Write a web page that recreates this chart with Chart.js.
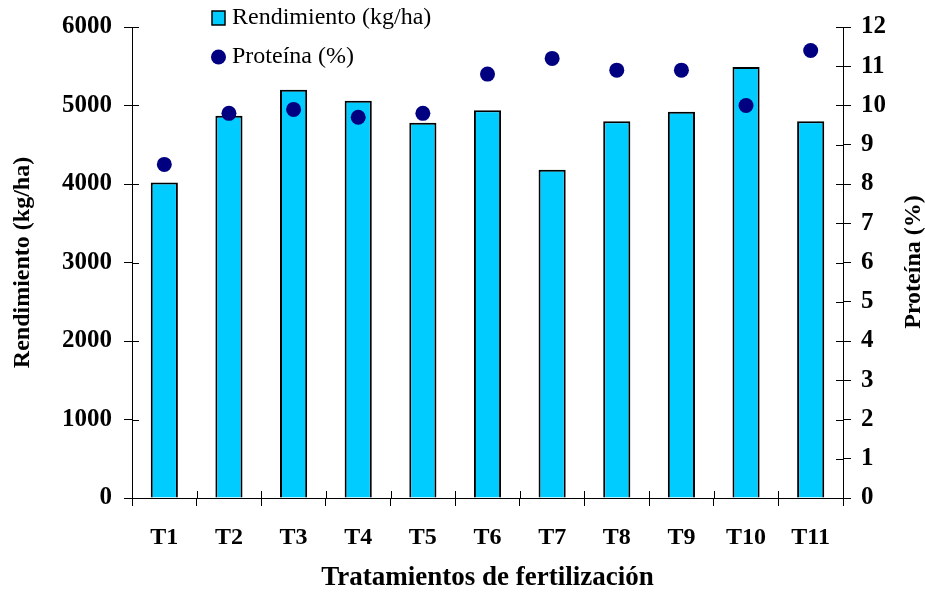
<!DOCTYPE html>
<html>
<head>
<meta charset="utf-8">
<script src="https://cdn.jsdelivr.net/npm/chart.js@4/dist/chart.umd.min.js"></script>
<style>
  html, body { margin: 0; padding: 0; background: #fff; }
  #wrap { width: 925px; height: 596px; }
</style>
</head>
<body>
<div id="wrap"><canvas id="grafico" width="925" height="596"></canvas></div>
<script>
var tratamientos = ['T1', 'T2', 'T3', 'T4', 'T5', 'T6', 'T7', 'T8', 'T9', 'T10', 'T11'];
var rendimiento = [4020, 4870, 5200, 5060, 4780, 4940, 4180, 4800, 4920, 5490, 4800];
var proteina = [8.5, 9.8, 9.9, 9.7, 9.8, 10.8, 11.2, 10.9, 10.9, 10.0, 11.4];
var ticksRend = [0, 1000, 2000, 3000, 4000, 5000, 6000];
var ticksProt = [0, 1, 2, 3, 4, 5, 6, 7, 8, 9, 10, 11, 12];

var serif = "'Liberation Serif', 'Times New Roman', serif";

// short tick marks that go inside the plot, like the original
var ticksDentro = {
    id: 'ticksDentro',
    afterDraw: function(chart) {
        var ctx = chart.ctx;
        var a = chart.chartArea;
        ctx.save();
        ctx.strokeStyle = '#000';
        ctx.lineWidth = 1;
        ctx.beginPath();
        chart.scales.y.ticks.forEach(function(t) {
            var py = Math.round(chart.scales.y.getPixelForValue(t.value)) + 0.5;
            ctx.moveTo(a.left, py); ctx.lineTo(a.left + 7, py);
        });
        chart.scales.y1.ticks.forEach(function(t) {
            var py = Math.round(chart.scales.y1.getPixelForValue(t.value)) + 0.5;
            ctx.moveTo(a.right, py); ctx.lineTo(a.right - 7, py);
        });
        var x = chart.scales.x;
        var w = (x.right - x.left) / tratamientos.length;
        for (var k = 0; k <= tratamientos.length; k++) {
            var px = Math.round(x.left + k * w) + 0.5;
            ctx.moveTo(px, a.bottom); ctx.lineTo(px, a.bottom - 7);
        }
        ctx.stroke();
        ctx.restore();
    }
};

// legend in two rows + right axis title reading bottom to top
var leyenda = {
    id: 'leyenda',
    afterDraw: function(chart) {
        var ctx = chart.ctx;
        var ds = chart.data.datasets;
        ctx.save();
        // bars
        ctx.fillStyle = ds[1].backgroundColor;
        ctx.strokeStyle = '#000';
        ctx.lineWidth = 1.5;
        ctx.fillRect(212, 11, 13, 14);
        ctx.strokeRect(212, 11, 13, 14);
        // points
        ctx.fillStyle = ds[0].backgroundColor;
        ctx.beginPath();
        ctx.arc(218.5, 57, 7.5, 0, Math.PI * 2);
        ctx.fill();
        ctx.fillStyle = '#000';
        ctx.font = '24px ' + serif;
        ctx.textBaseline = 'middle';
        ctx.textAlign = 'left';
        ctx.fillText(ds[1].label, 232, 18);
        ctx.fillText(ds[0].label, 232, 57);

        ctx.translate(914, 262);
        ctx.rotate(-Math.PI / 2);
        ctx.font = 'bold 24px ' + serif;
        ctx.textAlign = 'center';
        ctx.fillText('Proteína (%)', 0, 0);
        ctx.restore();
    }
};

var ctx = document.getElementById('grafico');
var grafico = new Chart(ctx, {
    data: {
        labels: tratamientos,
        datasets: [
            {
                type: 'line',
                label: 'Proteína (%)',
                data: proteina,
                yAxisID: 'y1',
                showLine: false,
                backgroundColor: '#000080',
                borderColor: '#000080',
                pointRadius: 7.5,
                pointBorderWidth: 0,
                order: 0
            },
            {
                type: 'bar',
                label: 'Rendimiento (kg/ha)',
                data: rendimiento,
                yAxisID: 'y',
                backgroundColor: '#00CCFF',
                borderColor: '#000',
                borderWidth: 2,
                barPercentage: 0.42,
                categoryPercentage: 1.0,
                order: 1
            }
        ]
    },
    options: {
        responsive: false,
        animation: false,
        devicePixelRatio: 1,
        layout: { padding: { top: 26, left: 0, right: 0, bottom: 0 } },
        plugins: {
            legend: { display: false },
            tooltip: { enabled: false }
        },
        scales: {
            x: {
                offset: true,
                afterFit: function(s) { s.height = 98; },
                grid: { offset: true, drawOnChartArea: false, drawTicks: true, tickLength: 8, color: '#000' },
                border: { display: true, color: '#000', width: 1 },
                ticks: { color: '#000', padding: 17, font: { family: serif, size: 24, weight: 'bold' } },
                title: {
                    display: true,
                    text: 'Tratamientos de fertilización',
                    color: '#000',
                    padding: { top: 0, bottom: 2 },
                    font: { family: serif, size: 27, weight: 'bold' }
                }
            },
            y: {
                position: 'left',
                min: 0,
                max: 6000,
                afterFit: function(s) { s.width = 132; },
                afterBuildTicks: function(s) { s.ticks = ticksRend.map(function(v) { return { value: v }; }); },
                grid: { drawOnChartArea: false, drawTicks: true, tickLength: 8, color: '#000' },
                border: { display: true, color: '#000', width: 1 },
                ticks: {
                    color: '#000',
                    padding: 12,
                    font: { family: serif, size: 25, weight: 'bold' },
                    callback: function(v) { return String(v); }
                },
                title: {
                    display: true,
                    text: 'Rendimiento (kg/ha)',
                    color: '#000',
                    padding: { top: 8, bottom: 0 },
                    font: { family: serif, size: 24, weight: 'bold' }
                }
            },
            y1: {
                position: 'right',
                min: 0,
                max: 12,
                afterFit: function(s) { s.width = 82; },
                afterBuildTicks: function(s) { s.ticks = ticksProt.map(function(v) { return { value: v }; }); },
                grid: { drawOnChartArea: false, drawTicks: true, tickLength: 8, color: '#000' },
                border: { display: true, color: '#000', width: 1 },
                ticks: {
                    color: '#000',
                    padding: 10,
                    font: { family: serif, size: 25, weight: 'bold' },
                    callback: function(v) { return String(v); }
                }
            }
        }
    },
    plugins: [ticksDentro, leyenda]
});
</script>
</body>
</html>
